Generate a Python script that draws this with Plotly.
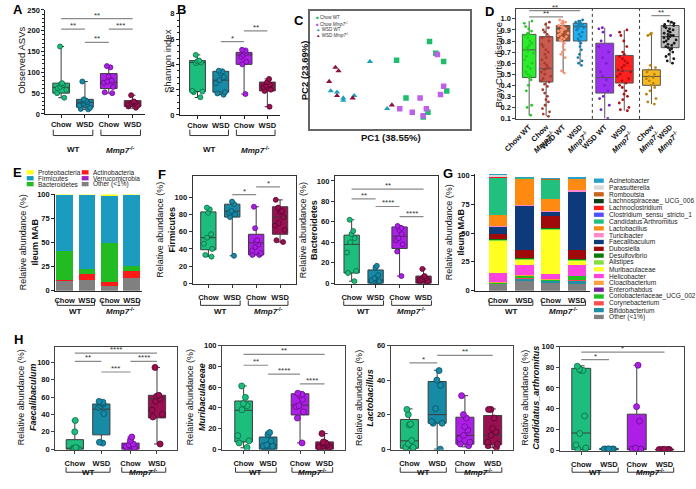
import plotly.graph_objects as go

W, H = 696, 489
FONT = "Liberation Sans"

# ============================ DATA ============================
diet_labels = ["Chow", "WSD", "Chow", "WSD"]
genotype_labels = ["WT", "<i>Mmp7</i><sup>-/-</sup>"]

# A  Observed ASVs (min, q1, median, q3, max) and individual mice
asv_min = [39, 11, 50, 14]
asv_q1 = [50, 16, 61, 18]
asv_med = [64, 28, 75, 27]
asv_q3 = [74, 35, 97, 32]
asv_max = [162, 78, 115, 45]
asv_points = [[162, 74, 72, 70, 65, 62, 58, 50, 39],
              [78, 35, 32, 30, 28, 25, 20, 15, 12, 11],
              [115, 112, 90, 80, 78, 75, 65, 52, 50],
              [45, 30, 28, 27, 25, 22, 20, 18, 15]]
asv_sig = [(0, 3, 229, "**"), (0, 1, 204, "**"), (1, 2, 172, "**"), (2, 3, 204, "***")]

# B  Shannon index
sh_min = [1.38, 1.6, 1.65, 0.65]
sh_q1 = [1.85, 1.8, 4.0, 1.9]
sh_med = [4.15, 2.75, 4.75, 2.3]
sh_q3 = [4.3, 3.45, 4.95, 2.6]
sh_max = [4.75, 3.5, 5.15, 2.85]
sh_points = [[4.75, 4.3, 4.25, 4.15, 4.1, 1.9, 1.85, 1.8, 1.4],
             [3.5, 3.45, 3.3, 3.0, 2.75, 2.5, 1.8, 1.7, 1.6],
             [5.15, 5.1, 5.0, 4.9, 4.75, 4.6, 4.2, 4.0, 1.65],
             [2.85, 2.6, 2.4, 2.3, 2.2, 2.0, 1.9, 0.65]]
sh_sig = [(1, 2, 5.8, "*"), (2, 3, 6.65, "**")]

# C  PCoA scores
pca_groups = ["Chow WT", "Chow <i>Mmp7</i><sup>-/-</sup>", "WSD WT", "WSD <i>Mmp7</i><sup>-/-</sup>"]
pc1_chow_wt = [0.25, 0.29, 0.34, 0.04, 0.36, 0.10, 0.24, 0.21]
pc2_chow_wt = [0.31, 0.21, 0.14, 0.15, -0.11, -0.17, -0.29, -0.33]
pc1_chow_ko = [0.30, 0.34, 0.32, 0.19, 0.06, 0.14, 0.23, 0.21]
pc2_chow_ko = [0.20, -0.07, -0.14, -0.17, -0.26, -0.29, -0.26, -0.32]
pc1_wsd_wt = [-0.13, -0.38, -0.34, -0.30, -0.30, -0.23, -0.02]
pc2_wsd_wt = [0.14, -0.11, -0.12, -0.17, -0.19, -0.15, -0.26]
pc1_wsd_ko = [-0.35, -0.33, -0.39, -0.34, -0.24, 0.01]
pc2_wsd_ko = [0.09, 0.06, -0.03, -0.15, -0.17, -0.23]

# D  Bray-Curtis distance
bc_labels = ["Chow WT", "Chow<br><i>Mmp7</i><sup>-/-</sup>", "WSD WT", "WSD<br><i>Mmp7</i><sup>-/-</sup>",
             "WSD WT", "WSD<br><i>Mmp7</i><sup>-/-</sup>", "Chow<br><i>Mmp7</i><sup>-/-</sup>",
             "WSD<br><i>Mmp7</i><sup>-/-</sup>"]
bc_min = [0.13, 0.12, 0.51, 0.58, 0.10, 0.17, 0.23, 0.60]
bc_q1 = [0.47, 0.43, 0.80, 0.80, 0.33, 0.42, 0.40, 0.74]
bc_med = [0.72, 0.55, 0.91, 0.93, 0.47, 0.53, 0.48, 0.84]
bc_q3 = [0.86, 0.84, 0.94, 0.96, 0.78, 0.67, 0.54, 0.94]
bc_max = [0.98, 0.97, 0.99, 0.99, 0.92, 0.90, 0.87, 0.98]
bc_points = [
    [0.98, 0.96, 0.93, 0.91, 0.89, 0.87, 0.86, 0.85, 0.83, 0.80, 0.78, 0.76, 0.74, 0.72, 0.71, 0.69,
     0.66, 0.63, 0.60, 0.57, 0.55, 0.52, 0.50, 0.48, 0.47, 0.45, 0.40, 0.35, 0.22, 0.20, 0.13],
    [0.97, 0.95, 0.92, 0.90, 0.88, 0.86, 0.84, 0.83, 0.80, 0.77, 0.75, 0.72, 0.70, 0.68, 0.65, 0.63,
     0.60, 0.58, 0.56, 0.55, 0.54, 0.52, 0.50, 0.48, 0.46, 0.44, 0.43, 0.41, 0.39, 0.36, 0.33, 0.30,
     0.27, 0.25, 0.22, 0.19, 0.16, 0.14, 0.12],
    [0.99, 0.98, 0.97, 0.96, 0.95, 0.94, 0.93, 0.92, 0.91, 0.90, 0.90, 0.89, 0.88, 0.87, 0.86, 0.85,
     0.84, 0.83, 0.82, 0.81, 0.80, 0.78, 0.75, 0.72, 0.70, 0.68, 0.65, 0.53, 0.51],
    [0.99, 0.98, 0.98, 0.97, 0.96, 0.96, 0.95, 0.94, 0.94, 0.93, 0.93, 0.92, 0.91, 0.90, 0.88, 0.86,
     0.84, 0.82, 0.80, 0.78, 0.75, 0.72, 0.68, 0.65, 0.62, 0.60, 0.58],
    [0.92, 0.91, 0.88, 0.85, 0.80, 0.75, 0.70, 0.65, 0.60, 0.52, 0.48, 0.45, 0.40, 0.35, 0.30, 0.28,
     0.22, 0.18, 0.10],
    [0.90, 0.88, 0.85, 0.80, 0.75, 0.70, 0.68, 0.66, 0.64, 0.62, 0.60, 0.58, 0.56, 0.54, 0.53, 0.52,
     0.50, 0.48, 0.46, 0.44, 0.42, 0.40, 0.38, 0.35, 0.32, 0.30, 0.27, 0.24, 0.20, 0.18, 0.17],
    [0.87, 0.86, 0.85, 0.58, 0.56, 0.54, 0.52, 0.50, 0.48, 0.47, 0.46, 0.44, 0.42, 0.40, 0.38, 0.35,
     0.32, 0.28, 0.25, 0.23],
    [0.98, 0.97, 0.96, 0.95, 0.94, 0.93, 0.92, 0.91, 0.90, 0.89, 0.88, 0.87, 0.86, 0.85, 0.85, 0.84,
     0.84, 0.83, 0.82, 0.81, 0.80, 0.79, 0.78, 0.77, 0.76, 0.75, 0.74, 0.73, 0.72, 0.70, 0.68, 0.66,
     0.64, 0.62, 0.60]]
bc_sig = [(0, 3, 1.075, "**"), (0, 2, 1.018, "**"), (6, 7, 1.03, "**")]

# E  phylum composition (legend order); stacked bottom -> top in phyla_stack
phyla = ["Proteobacteria", "Firmicutes", "Bacteroidetes", "Actinobacteria", "Verrucomicrobia", "Other (<1%)"]
phyla_stack = ["Other (<1%)", "Actinobacteria", "Verrucomicrobia", "Bacteroidetes", "Firmicutes", "Proteobacteria"]
phyla_pct = {
    "Other (<1%)": [9.8, 11.5, 4.7, 13.5],
    "Actinobacteria": [1.0, 5.5, 4.5, 6.5],
    "Verrucomicrobia": [0.2, 0.2, 0.2, 0.2],
    "Bacteroidetes": [30.2, 5.4, 40.6, 5.0],
    "Firmicutes": [57.8, 77.0, 48.7, 74.3],
    "Proteobacteria": [1.0, 0.4, 1.3, 0.5],
}

# F  Firmicutes / Bacteroidetes
fi_min = [31, 32, 33, 48]
fi_q1 = [39, 77, 33, 57]
fi_med = [53, 84, 47, 77]
fi_q3 = [83, 92, 57, 89]
fi_max = [88, 95, 89, 97]
fi_points = [[88, 86, 82, 57, 53, 46, 40, 33, 31],
             [95, 92, 84, 82, 80, 77, 32],
             [89, 64, 50, 48, 45, 42, 38, 35, 33, 33],
             [97, 88, 84, 83, 77, 70, 67, 62, 50, 48]]
fi_sig = [(1, 2, 103, "*"), (2, 3, 112, "*")]

ba_min = [2, 0, 7, 0]
ba_q1 = [10, 0, 34, 0]
ba_med = [38, 3, 46, 4]
ba_q3 = [47, 13, 55, 7]
ba_max = [62, 17, 56, 14]
ba_points = [[62, 51, 48, 44, 40, 30, 12, 10, 2],
             [17, 15, 8, 5, 3, 2, 1, 1],
             [56, 54, 52, 48, 44, 42, 38, 31, 7],
             [14, 7, 6, 5, 4, 3, 2, 2, 1]]
ba_sig = [(0, 3, 92, "**"), (0, 1, 82.5, "**"), (1, 2, 75, "****"), (2, 3, 65, "****")]

# G  genus composition (legend order, top of stack first)
genera = ["Acinetobacter", "Parasutterella", "Romboutsia", "Lachnospiraceae_ UCG_006", "Lachnoclostridium",
          "Clostridium_sensu_stricto_1", "Candidatus Arthromitus", "Lactobacillus", "Turicibacter",
          "Faecalibaculum", "Dubosiella", "Desulfovibrio", "Alistipes", "Muribaculaceae", "Helicobacter",
          "Cloacibacterium", "Enterorhabdus", "Coriobacteriaceae_UCG_002", "Corynebacterium",
          "Bifidobacterium", "Other (<1%)"]
genus_pct = {
    "Acinetobacter": [0.1, 0.1, 0.1, 0.1],
    "Parasutterella": [1.7, 0.1, 0.3, 0.1],
    "Romboutsia": [0.2, 0.1, 0.1, 0.1],
    "Lachnospiraceae_ UCG_006": [0.1, 0.1, 0.1, 0.1],
    "Lachnoclostridium": [0.1, 0.1, 0.1, 0.1],
    "Clostridium_sensu_stricto_1": [0.1, 0.1, 0.1, 0.1],
    "Candidatus Arthromitus": [32.9, 0.1, 17.4, 0.1],
    "Lactobacillus": [9.5, 23.5, 10.5, 10.0],
    "Turicibacter": [0.5, 0.3, 0.3, 0.8],
    "Faecalibaculum": [6.2, 38.6, 3.6, 51.6],
    "Dubosiella": [5.0, 7.6, 10.6, 7.6],
    "Desulfovibrio": [0.2, 0.2, 0.3, 0.3],
    "Alistipes": [0.6, 0.8, 0.8, 0.8],
    "Muribaculaceae": [28.7, 4.7, 39.0, 3.9],
    "Helicobacter": [8.0, 8.7, 4.0, 9.3],
    "Cloacibacterium": [0.1, 0.1, 0.1, 0.1],
    "Enterorhabdus": [0.1, 0.1, 0.8, 0.1],
    "Coriobacteriaceae_UCG_002": [0.2, 2.6, 0.3, 3.6],
    "Corynebacterium": [0.1, 0.2, 0.1, 0.2],
    "Bifidobacterium": [0.3, 2.6, 2.7, 3.4],
    "Other (<1%)": [6.3, 8.0, 6.3, 5.7],
}

# H  selected genera
fa_min = [0, 7, 0, 6]
fa_q1 = [0, 16.5, 0, 36]
fa_med = [1, 46, 2, 58]
fa_q3 = [11, 52, 7, 62]
fa_max = [33, 56, 14, 94]
fa_points = [[33, 20, 2, 1, 1, 0.5, 0.5, 0.3],
             [55, 54, 53, 52, 50, 48, 41, 8, 7],
             [14, 10, 6, 5, 3, 2, 1, 1],
             [94, 62, 61, 58, 55, 45, 40, 37, 6]]
fa_sig = [(0, 3, 110.5, "****"), (0, 1, 101, "**"), (1, 2, 88.8, "***"), (2, 3, 101, "****")]

mu_min = [1.3, 0, 6, 0]
mu_q1 = [7, 0, 33, 0]
mu_med = [37.5, 4, 42.5, 3]
mu_q3 = [46.5, 11.7, 53.5, 7]
mu_max = [61, 16.4, 54, 15]
mu_points = [[61, 50, 44, 42, 38, 13, 8, 6, 1.5],
             [16, 14, 8, 4, 3, 3, 2, 1],
             [54, 53, 52, 48, 42, 41, 36, 30, 6],
             [15, 7, 6, 5, 4, 3, 2, 2, 1, 1]]
mu_sig = [(0, 3, 91.5, "**"), (0, 1, 81, "**"), (1, 2, 72.5, "****"), (2, 3, 63, "****")]

la_min = [0.3, 0, 1.3, 0.8]
la_q1 = [0.5, 15, 2.9, 2.7]
la_med = [4.8, 20, 8, 8]
la_q3 = [17.2, 39.2, 18.5, 19.5]
la_max = [23.3, 45.7, 31, 23.3]
la_points = [[23, 20, 14.5, 14, 5, 3, 1, 1, 0.5, 0.5],
             [45.5, 40, 37, 23.5, 16, 15, 15, 0],
             [31, 20, 18, 13, 11, 8, 6, 4, 3, 2],
             [23, 23, 18, 12, 10, 8, 4, 3, 2, 1]]
la_sig = [(0, 1, 50, "*"), (1, 3, 54.3, "**")]

ca_min = [0.3, 0.5, 0.3, 0.2]
ca_q1 = [0.5, 0.8, 0.3, 0.3]
ca_med = [16.5, 1.0, 1.0, 0.5]
ca_q3 = [79, 1.3, 34.7, 0.7]
ca_max = [81.4, 1.5, 82, 0.9]
ca_points = [[81, 78, 77, 77, 33, 16, 5, 2, 1, 0.5],
             [1.2, 1, 1, 1, 1, 1, 0.8],
             [82, 42, 28, 2, 1, 1, 0.5, 0.5],
             [0.8, 0.6, 0.5, 0.5, 0.5, 0.4, 0.3]]
ca_sig = [(0, 1, 87.4, "*"), (0, 3, 94.6, "*")]

# ============================ STYLE ============================
group_fill = ["#1dbd7d", "#178aa6", "#ad1fe6", "#9a0f50"]
group_edge = ["#0d6b45", "#0b5266", "#650c8a", "#55062d"]
pca_colors = ["#1dbd6d", "#c060e8", "#1aa0c0", "#8b1040"]
pca_symbols = ["square", "square", "triangle-up", "triangle-up"]
bc_fill = ["#2aee2a", "#c85a50", "#a0522d", "#20aef0", "#9b30f0", "#ff2020", "#f8b820", "#bdbdbd"]
bc_dot = ["#22cc22", "#a83a30", "#ff9473", "#1a7fb0", "#7a20c8", "#b01010", "#b8860b", "#1a1a1a"]
phyla_colors = {"Proteobacteria": "#ffff1a", "Firmicutes": "#1a9bbf", "Bacteroidetes": "#22bb22",
                "Actinobacteria": "#ff1a1a", "Verrucomicrobia": "#a020c0", "Other (<1%)": "#808080"}
genus_colors = {
    "Acinetobacter": "#2a9fc8", "Parasutterella": "#d9d9d9", "Romboutsia": "#c8651b",
    "Lachnospiraceae_ UCG_006": "#0b3d1a", "Lachnoclostridium": "#ff1a1a",
    "Clostridium_sensu_stricto_1": "#5050ff", "Candidatus Arthromitus": "#22c07f",
    "Lactobacillus": "#ff8a12", "Turicibacter": "#ff88cc", "Faecalibaculum": "#0e3a7c",
    "Dubosiella": "#a00a0a", "Desulfovibrio": "#0a7a0a", "Alistipes": "#80e040",
    "Muribaculaceae": "#ffff22", "Helicobacter": "#ff44dd", "Cloacibacterium": "#ffa040",
    "Enterorhabdus": "#7b1fa2", "Coriobacteriaceae_UCG_002": "#20c020",
    "Corynebacterium": "#ff4d4d", "Bifidobacterium": "#1f8fa8", "Other (<1%)": "#808080"}

fig = go.Figure()
axes = {}
ann = []
shapes = []


def sx(n):
    return "" if n == 1 else str(n)


def add_axes(n, xpx, ypx, xr, yr, mirror=False, xtv=None, xtt=None, ytv=None, yminor=None,
             xticks="outside", lc="#222", lw=1, yfmt=None, xangle=0, labels=True, tsize=7.5, xstand=0):
    tf = dict(family=FONT, size=tsize, color="#111", weight="bold")
    xa = dict(domain=[xpx[0] / W, xpx[1] / W], range=xr, anchor="y" + sx(n), showline=True,
              linecolor=lc, linewidth=lw, mirror=mirror, showgrid=False, zeroline=False,
              ticks=xticks if labels else "", ticklen=3, tickcolor=lc, tickfont=tf,
              tickvals=xtv, ticktext=xtt, tickangle=xangle, showticklabels=labels, fixedrange=True)
    if xstand:
        xa["ticklabelstandoff"] = xstand
    ya = dict(domain=[1 - ypx[1] / H, 1 - ypx[0] / H], range=yr, anchor="x" + sx(n), showline=True,
              linecolor=lc, linewidth=lw, mirror=mirror, showgrid=False, zeroline=False,
              ticks="outside" if labels else "", ticklen=3, tickcolor=lc, tickfont=tf,
              tickvals=ytv, showticklabels=labels, tickformat=yfmt, fixedrange=True)
    if yminor:
        ya["minor"] = dict(ticks="outside", dtick=yminor, ticklen=2, tickcolor=lc)
    axes["xaxis" + sx(n)] = xa
    axes["yaxis" + sx(n)] = ya


def add_boxes(n, pos, lo, q1, md, q3, hi, pts, fills, edges, width, msize, jitter=0.8,
              lcol="#3c3c3c", ww=0.35, mline=0.8):
    for i in range(len(pos)):
        w = width[i] if isinstance(width, list) else width
        fig.add_trace(go.Box(x=[pos[i]], lowerfence=[lo[i]], q1=[q1[i]], median=[md[i]], q3=[q3[i]],
                             upperfence=[hi[i]], orientation="v", width=w, whiskerwidth=ww,
                             fillcolor=fills[i], line=dict(color=lcol, width=1), boxpoints=False,
                             xaxis="x" + sx(n), yaxis="y" + sx(n), showlegend=False, hoverinfo="skip"))
        fig.add_trace(go.Box(x=[pos[i]] * len(pts[i]), y=pts[i], orientation="v", width=w,
                             boxpoints="all", jitter=jitter, pointpos=0,
                             fillcolor="rgba(0,0,0,0)", line=dict(color="rgba(0,0,0,0)", width=0),
                             marker=dict(color=fills[i] if edges else bc_dot[i], size=msize,
                                         line=dict(color=edges[i] if edges else "rgba(0,0,0,0)",
                                                   width=mline if edges else 0)),
                             xaxis="x" + sx(n), yaxis="y" + sx(n), showlegend=False))


def add_sig(n, pos, sigs, size=8):
    for i, j, yv, lab in sigs:
        shapes.append(dict(type="line", xref="x" + sx(n), yref="y" + sx(n), x0=pos[i], x1=pos[j],
                           y0=yv, y1=yv, line=dict(color="#8a8a8a", width=1.2)))
        ann.append(dict(xref="x" + sx(n), yref="y" + sx(n), x=(pos[i] + pos[j]) / 2, y=yv, text=lab,
                        showarrow=False, yanchor="bottom", yshift=-3,
                        font=dict(family=FONT, size=size, color="#333")))


def add_brackets(n, pos, ytop, ybot, ylab, half=0.33):
    for k, (i, j) in enumerate([(0, 1), (2, 3)]):
        x0, x1 = pos[i] - half, pos[j] + half
        y0, y1 = 1 - ytop / H, 1 - ybot / H
        shapes.append(dict(type="path", xref="x" + sx(n), yref="paper",
                           path=f"M {x0},{y0} L {x0},{y1} L {x1},{y1} L {x1},{y0}",
                           line=dict(color="#333", width=1)))
        ann.append(dict(xref="x" + sx(n), yref="paper", x=(pos[i] + pos[j]) / 2, y=1 - ylab / H,
                        text="<b>" + genotype_labels[k] + "</b>", showarrow=False,
                        font=dict(family=FONT, size=8, color="#111")))


def txt(x, y, s, size=9.5, angle=0, xanchor="center", yanchor="middle", color="#111"):
    ann.append(dict(xref="paper", yref="paper", x=x / W, y=1 - y / H, text=s, showarrow=False,
                    textangle=angle, xanchor=xanchor, yanchor=yanchor,
                    font=dict(family=FONT, size=size, color=color)))


def rect_px(x0, y0, x1, y1, color):
    shapes.append(dict(type="rect", xref="paper", yref="paper", x0=x0 / W, x1=x1 / W,
                       y0=1 - y1 / H, y1=1 - y0 / H, fillcolor=color, line=dict(width=0)))


# ============================ A ============================
posA = [0, 1, 2, 3]
add_axes(1, (33, 135), (6, 112), [-0.66, 3.54], [0, 250], xtv=posA, xtt=diet_labels,
         ytv=[0, 50, 100, 150, 200, 250], yminor=10)
add_boxes(1, posA, asv_min, asv_q1, asv_med, asv_q3, asv_max, asv_points, group_fill, group_edge, 0.7, 5)
add_sig(1, posA, asv_sig)
add_brackets(1, posA, 128, 134, 142)
txt(9, 57, "Observed ASVs", size=9.5, angle=-90)

# ============================ B ============================
add_axes(2, (170, 272), (10, 113), [-0.76, 3.54], [0, 8], xtv=posA, xtt=diet_labels,
         ytv=[0, 2, 4, 6, 8], yminor=0.5)
add_boxes(2, posA, sh_min, sh_q1, sh_med, sh_q3, sh_max, sh_points, group_fill, group_edge, 0.68, 5)
add_sig(2, posA, sh_sig)
add_brackets(2, posA, 128, 134, 142)
txt(158, 58, "Shannon index", size=9.5, angle=-90)

# ============================ C ============================
add_axes(3, (303, 466), (7, 127), [-0.51, 0.51], [-0.43, 0.57], mirror=True, labels=False,
         lc="#666", lw=1.5)
pcx = [pc1_chow_wt, pc1_chow_ko, pc1_wsd_wt, pc1_wsd_ko]
pcy = [pc2_chow_wt, pc2_chow_ko, pc2_wsd_wt, pc2_wsd_ko]
for k in range(4):
    fig.add_trace(go.Scatter(x=pcx[k], y=pcy[k], mode="markers", xaxis="x3", yaxis="y3",
                             marker=dict(symbol=pca_symbols[k], size=5.5, color=pca_colors[k], line=dict(width=0)),
                             showlegend=False, name=pca_groups[k]))
for k in range(4):
    sym = "■" if pca_symbols[k] == "square" else "▲"
    txt(307, 14 + k * 6, f'<span style="color:{pca_colors[k]}">{sym}</span> {pca_groups[k]}',
        size=4.5, xanchor="left", color="#333")
txt(297, 67, "<b>PC2 (23.69%)</b>", size=9.5, angle=-90)
txt(385, 136, "<b>PC1 (38.55%)</b>", size=9.5)

# ============================ D ============================
posD = [0, 1, 2, 3, 4.45, 5.6, 7.2, 8.3]
add_axes(4, (513, 684), (5, 117), [-0.75, 9.13], [0.097, 1.09], mirror=True, xtv=posD, xtt=bc_labels,
         ytv=[0.1, 0.2, 0.3, 0.4, 0.5, 0.6, 0.7, 0.8, 0.9, 1.0], yfmt=".1f", xangle=-45, lc="#444",
         xticks="")
add_boxes(4, posD, bc_min, bc_q1, bc_med, bc_q3, bc_max, bc_points, bc_fill, None,
          [0.8, 0.8, 0.8, 0.8, 1.05, 1.05, 1.05, 1.05], 2.8, jitter=0.8, lcol="#555", ww=0)
for xv in [3.72, 6.5]:
    shapes.append(dict(type="line", xref="x4", yref="y4 domain", x0=xv, x1=xv, y0=0, y1=1,
                       line=dict(color="#333", width=1, dash="dot")))
add_sig(4, posD, bc_sig)
txt(495, 62, "Bray-Curtis distance", size=9.5, angle=-90)

# ============================ E ============================
add_axes(5, (43, 131), (194, 292), [-0.42, 3.43], [0, 100], xtv=posA, xtt=diet_labels,
         ytv=[0, 25, 50, 75, 100], xticks="", xstand=2)
for name in phyla_stack:
    fig.add_trace(go.Bar(x=posA, y=phyla_pct[name], width=0.75, xaxis="x5", yaxis="y5",
                         marker=dict(color=phyla_colors[name], line=dict(width=0)),
                         showlegend=False, name=name))
add_brackets(5, posA, 302, 307, 313)
for k, name in enumerate(phyla):
    col, row = divmod(k, 3)
    x0 = 14 + col * 56
    yc = 171.5 + row * 6
    rect_px(x0, yc - 2.2, x0 + 7, yc + 2.2, phyla_colors[name])
    txt(x0 + 9, yc, name, size=6.5, xanchor="left", color="#222")
txt(16, 243, "Relative abundance (%)<br><b>Ileum MAB</b>", size=9, angle=-90)

# ============================ F ============================
add_axes(6, (183, 288), (175, 285), [-0.66, 3.65], [-0.5, 125], mirror=True, xtv=posA, xtt=diet_labels,
         ytv=[0, 20, 40, 60, 80, 100], lc="#333", xstand=3)
add_boxes(6, posA, fi_min, fi_q1, fi_med, fi_q3, fi_max, fi_points, group_fill, group_edge, 0.64, 5)
add_sig(6, posA, fi_sig)
add_brackets(6, posA, 302, 307, 313)
txt(156, 230, "Relative abundance (%)<br><b>Firmicutes</b>", size=9, angle=-90)

add_axes(7, (328, 433), (175, 285), [-0.7, 3.6], [-0.5, 105], mirror=True, xtv=posA, xtt=diet_labels,
         ytv=[0, 20, 40, 60, 80, 100], lc="#333", xstand=3)
add_boxes(7, posA, ba_min, ba_q1, ba_med, ba_q3, ba_max, ba_points, group_fill, group_edge, 0.64, 5)
add_sig(7, posA, ba_sig)
add_brackets(7, posA, 302, 307, 313)
txt(301, 230, "Relative abundance (%)<br><b>Bacteroidetes</b>", size=9, angle=-90)

# ============================ G ============================
add_axes(8, (471, 588), (173, 292), [-0.86, 3.5], [0, 101.5], xtv=posA, xtt=diet_labels,
         ytv=[0, 25, 50, 75, 100], xticks="", xstand=2)
for name in reversed(genera):
    fig.add_trace(go.Bar(x=posA, y=genus_pct[name], width=0.71, xaxis="x8", yaxis="y8",
                         marker=dict(color=genus_colors[name], line=dict(width=0)),
                         showlegend=False, name=name))
add_brackets(8, posA, 302, 307, 313)
for k, name in enumerate(genera):
    yc = 180 + k * 6.94
    rect_px(592, yc - 2.2, 602, yc + 2.2, genus_colors[name])
    txt(605, yc, name, size=6.6, xanchor="left", color="#222")
txt(450, 233, "Relative abundance (%)<br><b>Ileum MAB</b>", size=9, angle=-90)

# ============================ H ============================
h_specs = [
    (9, (43, 167), (349, 454), [-0.74, 3.85], [-0.5, 118], [0, 1, 2.1, 3.1], [0, 20, 40, 60, 80, 100],
     (fa_min, fa_q1, fa_med, fa_q3, fa_max, fa_points, fa_sig), 14, "Faecalibaculum", 0.65),
    (10, (213, 338), (348, 454), [-0.88, 4.12], [-0.5, 100], [0, 1, 2.3, 3.3], [0, 20, 40, 60, 80, 100],
     (mu_min, mu_q1, mu_med, mu_q3, mu_max, mu_points, mu_sig), 186, "Muribaculaceae", 0.72),
    (11, (385, 510), (348, 454), [-0.67, 3.75], [-0.3, 60], [0, 1, 2, 3], [0, 20, 40, 60],
     (la_min, la_q1, la_med, la_q3, la_max, la_points, la_sig), 358, "Lactobacillus", 0.65),
    (12, (557, 684), (349, 455), [-0.78, 3.71], [-0.5, 100], [0, 1, 2, 3], [0, 20, 40, 60, 80, 100],
     (ca_min, ca_q1, ca_med, ca_q3, ca_max, ca_points, ca_sig), 527, "Candidatus_arthromitus", 0.68),
]
for n, xpx, ypx, xr, yr, pos, ytv, d, tx, genus, bw in h_specs:
    add_axes(n, xpx, ypx, xr, yr, mirror=True, xtv=pos, xtt=diet_labels, ytv=ytv, lc="#444", xstand=3)
    add_boxes(n, pos, d[0], d[1], d[2], d[3], d[4], d[5], group_fill, group_edge, bw, 6)
    add_sig(n, pos, d[6])
    add_brackets(n, pos, 472, 477, 484)
    txt(tx, 401, f"Relative abundance (%)<br><b><i>{genus}</i></b>", size=9, angle=-90)

# ============================ panel letters ============================
for letter, x, y in [("A", 5, 6), ("B", 172, 6), ("C", 291, 17), ("D", 486, 8),
                     ("E", 5, 172), ("F", 152, 174), ("G", 443, 173), ("H", 6, 342)]:
    txt(x, y, f"<b>{letter}</b>", size=13, color="#000")

fig.update_layout(width=W, height=H, autosize=False, margin=dict(l=0, r=0, t=0, b=0),
                  paper_bgcolor="white", plot_bgcolor="white", barmode="stack", boxmode="overlay",
                  showlegend=False, annotations=ann, shapes=shapes,
                  font=dict(family=FONT, size=8, color="#111"), **axes)
fig.write_html("out.html", config={"displayModeBar": False},
               post_script="document.body.style.margin='0px';document.body.style.overflow='hidden';")
